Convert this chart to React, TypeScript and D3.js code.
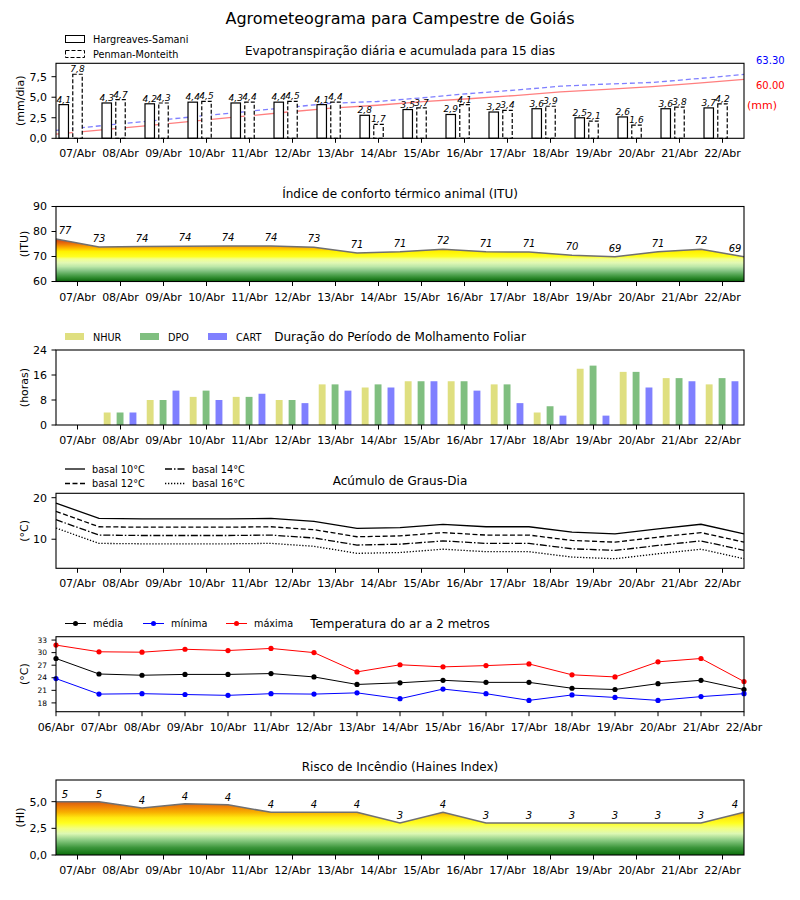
import React from "react";
import * as d3 from "d3";

const FONT = "DejaVu Sans, sans-serif";
const LEFT = 56;
const RIGHT = 744;
const PANEL_H = 75;

// datas do eixo x
const dayLabels = [
  "06/Abr", "07/Abr", "08/Abr", "09/Abr", "10/Abr", "11/Abr", "12/Abr", "13/Abr", "14/Abr",
  "15/Abr", "16/Abr", "17/Abr", "18/Abr", "19/Abr", "20/Abr", "21/Abr", "22/Abr",
];
const barDays = dayLabels.slice(1);

// evapotranspiração (mm/dia)
const etHS = [4.1, 4.3, 4.2, 4.4, 4.3, 4.4, 4.1, 2.8, 3.5, 2.9, 3.2, 3.6, 2.5, 2.6, 3.6, 3.7];
const etPM = [7.8, 4.7, 4.3, 4.5, 4.4, 4.5, 4.4, 1.7, 3.7, 4.1, 3.4, 3.9, 2.1, 1.6, 3.8, 4.2];
const etTotalPM = "63.30";
const etTotalHS = "60.00";

// ITU
const itu = [77.0, 73.8, 74.0, 74.1, 74.2, 74.2, 73.7, 71.4, 71.9, 72.9, 71.9, 71.8, 70.5, 69.9, 71.9, 72.9, 69.9];

// molhamento foliar (horas)
const nhur = [0, 4, 8, 9, 9, 8, 13, 12, 14, 14, 13, 4, 18, 17, 15, 13];
const dpo = [0, 4, 8, 11, 9, 8, 13, 13, 14, 14, 13, 6, 19, 17, 15, 15];
const cart = [0, 4, 11, 8, 10, 7, 11, 12, 14, 11, 7, 3, 3, 12, 14, 14];

// graus-dia
const gd10 = [18.7, 15.0, 14.9, 14.9, 14.9, 15.0, 14.3, 12.6, 12.8, 13.6, 13.0, 13.0, 11.7, 11.3, 12.5, 13.6, 11.3];
const gd12 = [16.7, 13.0, 12.9, 12.9, 12.9, 13.0, 12.3, 10.6, 10.8, 11.6, 11.0, 11.0, 9.7, 9.3, 10.5, 11.6, 9.3];
const gd14 = [14.7, 11.0, 10.9, 10.9, 10.9, 11.0, 10.3, 8.6, 8.8, 9.6, 9.0, 9.0, 7.7, 7.3, 8.5, 9.6, 7.3];
const gd16 = [12.7, 9.0, 8.9, 8.9, 8.9, 9.0, 8.3, 6.6, 6.8, 7.6, 7.0, 7.0, 5.7, 5.3, 6.5, 7.6, 5.3];

// temperatura do ar
const tMed = [28.6, 24.9, 24.6, 24.8, 24.8, 25.0, 24.2, 22.4, 22.8, 23.4, 22.9, 22.9, 21.5, 21.2, 22.6, 23.4, 21.2];
const tMin = [23.8, 20.1, 20.2, 20.0, 19.8, 20.2, 20.1, 20.4, 19.0, 21.3, 20.2, 18.6, 19.9, 19.3, 18.6, 19.5, 20.2];
const tMax = [31.8, 30.2, 30.1, 30.8, 30.5, 31.0, 30.0, 25.4, 27.1, 26.6, 26.9, 27.3, 24.7, 24.2, 27.8, 28.6, 23.1];

// Haines
const haines = [5.0, 5.0, 4.4, 4.8, 4.7, 4.0, 4.0, 4.0, 3.0, 4.0, 3.0, 3.0, 3.0, 3.0, 3.0, 3.0, 4.0];

const ituStops: [number, string][] = [
  [60, "#0a640a"], [61.5, "#2e8a2e"], [63, "#5aaa5a"], [64.5, "#8cc88a"], [66, "#bde8a8"],
  [67.5, "#e2f8b4"], [69, "#f2ff90"], [70, "#ffff20"], [72, "#fff200"], [73, "#ffc800"],
  [74, "#f8a000"], [75, "#ec7808"], [76, "#dc5a10"], [77.5, "#cc3a10"], [90, "#cc3a10"],
];
const hainesStops: [number, string][] = [
  [0, "#0a6e0a"], [0.7, "#3c963c"], [1.4, "#8ccc84"], [2.0, "#dcf8b4"], [2.5, "#f2ff80"],
  [3.0, "#ffff20"], [3.5, "#ffe810"], [4.0, "#f8b000"], [4.5, "#f08408"], [5.0, "#d85a10"], [7, "#d05010"],
];

const comma = (v: number) => d3.format(".1f")(v).replace(".", ",");
const x = d3.scaleLinear().domain([0, 16]).range([LEFT, RIGHT]);

function Frame({ top }: { top: number }) {
  return <rect x={LEFT} y={top} width={RIGHT - LEFT} height={PANEL_H} fill="none" stroke="#000" strokeWidth={1.1} />;
}

function XTicks({ top, pos, labels }: { top: number; pos: number[]; labels: string[] }) {
  const b = top + PANEL_H;
  return (
    <g>
      {pos.map((p, i) => (
        <g key={i}>
          <line x1={x(p)} x2={x(p)} y1={b} y2={b + 4.5} stroke="#000" />
          <text x={x(p)} y={b + 19} textAnchor="middle" fontSize={11}>{labels[i]}</text>
        </g>
      ))}
    </g>
  );
}

function YTicks({ y, ticks, fmt, fontSize = 11 }: { y: d3.ScaleLinear<number, number>; ticks: number[]; fmt: (v: number) => string; fontSize?: number }) {
  return (
    <g>
      {ticks.map((t) => (
        <g key={t}>
          <line x1={LEFT - 4.5} x2={LEFT} y1={y(t)} y2={y(t)} stroke="#000" />
          <text x={LEFT - 9} y={y(t)} dy="0.35em" textAnchor="end" fontSize={fontSize}>{fmt(t)}</text>
        </g>
      ))}
    </g>
  );
}

function YLabel({ top, text, cx }: { top: number; text: string; cx: number }) {
  const cy = top + PANEL_H / 2;
  return (
    <text transform={`translate(${cx},${cy}) rotate(-90)`} textAnchor="middle" dy="0.35em" fontSize={11}>{text}</text>
  );
}

function Title({ y, text }: { y: number; text: string }) {
  return <text x={400} y={y} textAnchor="middle" fontSize={12}>{text}</text>;
}

function Gradient({ id, stops, y }: { id: string; stops: [number, string][]; y: d3.ScaleLinear<number, number> }) {
  const [d0, d1] = y.domain();
  return (
    <linearGradient id={id} gradientUnits="userSpaceOnUse" x1={0} x2={0} y1={y(d0)} y2={y(d1)}>
      {stops.map(([v, c], i) => (
        <stop key={i} offset={(v - d0) / (d1 - d0)} stopColor={c} />
      ))}
    </linearGradient>
  );
}

function labelX(i: number, n: number) {
  if (i === 0) return x(0) + 9;
  if (i === n - 1) return x(n - 1) - 9;
  return x(i);
}

export default function App() {
  const idx17 = d3.range(17);
  const mid16 = d3.range(16).map((i) => i + 0.5);

  // painel 1
  const t1 = 63.3;
  const y1 = d3.scaleLinear().domain([0, 9.13]).range([t1 + PANEL_H, t1]);
  const y1b = d3.scaleLinear().domain([0, 74]).range([t1 + PANEL_H, t1]);
  const cumHS = d3.cumsum(etHS);
  const cumPM = d3.cumsum(etPM);
  const cumLine = d3.line<number>().x((_, i) => x((i * 16) / 15)).y((d) => y1b(d));
  const bw = 0.22 * 43;

  // painel 2
  const t2 = 206.5;
  const y2 = d3.scaleLinear().domain([60, 90]).range([t2 + PANEL_H, t2]);
  const ituArea = d3.area<number>().x((_, i) => x(i)).y0(y2(60)).y1((d) => y2(d));
  const ituLine = d3.line<number>().x((_, i) => x(i)).y((d) => y2(d));

  // painel 3
  const t3 = 350;
  const y3 = d3.scaleLinear().domain([0, 24]).range([t3 + PANEL_H, t3]);
  const wbw = 0.16 * 43;
  const wetSeries = [
    { name: "NHUR", data: nhur, color: "#dfdf80", off: -0.31 },
    { name: "DPO", data: dpo, color: "#80bf80", off: -0.01 },
    { name: "CART", data: cart, color: "#8080ff", off: 0.29 },
  ];

  // painel 4
  const t4 = 493.3;
  const y4 = d3.scaleLinear().domain([3.0, 21.06]).range([t4 + PANEL_H, t4]);
  const gdLine = d3.line<number>().x((_, i) => x(i)).y((d) => y4(d));
  const gdSeries = [
    { name: "basal 10°C", data: gd10, dash: "" },
    { name: "basal 12°C", data: gd12, dash: "5,2.5" },
    { name: "basal 14°C", data: gd14, dash: "7,2,1.5,2" },
    { name: "basal 16°C", data: gd16, dash: "1.3,1.7" },
  ];

  // painel 5
  const t5 = 636.7;
  const y5 = d3.scaleLinear().domain([15.9, 33.8]).range([t5 + PANEL_H, t5]);
  const tLine = d3.line<number>().x((_, i) => x(i)).y((d) => y5(d));
  const tSeries = [
    { name: "média", data: tMed, color: "#000000" },
    { name: "mínima", data: tMin, color: "#0000ff" },
    { name: "máxima", data: tMax, color: "#ff0000" },
  ];

  // painel 6
  const t6 = 780;
  const y6 = d3.scaleLinear().domain([0, 7.03]).range([t6 + PANEL_H, t6]);
  const hArea = d3.area<number>().x((_, i) => x(i)).y0(y6(0)).y1((d) => y6(d));
  const hLine = d3.line<number>().x((_, i) => x(i)).y((d) => y6(d));

  return (
    <svg width={800} height={900} style={{ position: "absolute", left: 0, top: 0, background: "#fff" }} fontFamily={FONT}>
      <defs>
        <Gradient id="ituGrad" stops={ituStops} y={y2} />
        <Gradient id="hGrad" stops={hainesStops} y={y6} />
      </defs>
      <rect width={800} height={900} fill="#fff" />
      <text x={400} y={24} textAnchor="middle" fontSize={16}>Agrometeograma para Campestre de Goiás</text>

      {/* Evapotranspiração */}
      <Title y={55} text="Evapotranspiração diária e acumulada para 15 dias" />
      <rect x={65.5} y={35.5} width={19} height={7} fill="#fff" stroke="#000" />
      <text x={93} y={42.5} fontSize={9.7}>Hargreaves-Samani</text>
      <rect x={65.5} y={50.5} width={19} height={7} fill="#fff" stroke="#000" strokeDasharray="4,2" />
      <text x={93} y={57.5} fontSize={9.7}>Penman-Monteith</text>
      <path d={cumLine(cumHS) ?? ""} fill="none" stroke="#ff7f7f" strokeWidth={1.3} />
      <path d={cumLine(cumPM) ?? ""} fill="none" stroke="#7f7fff" strokeWidth={1.3} strokeDasharray="5,3" />
      {mid16.map((m, i) => {
        const hx = x(m - 0.32) - bw / 2;
        const px = x(m) - bw / 2;
        return (
          <g key={i}>
            <rect x={hx} y={y1(etHS[i])} width={bw} height={y1(0) - y1(etHS[i])} fill="#fff" stroke="#000" strokeWidth={1.2} />
            <rect x={px} y={y1(etPM[i])} width={bw} height={y1(0) - y1(etPM[i])} fill="#fff" stroke="#000" strokeWidth={1.2} strokeDasharray="4,2" />
            <text x={hx + bw / 2} y={y1(etHS[i]) - 2} textAnchor="middle" fontSize={9} fontStyle="italic">{comma(etHS[i])}</text>
            <text x={px + bw / 2} y={y1(etPM[i]) - 2} textAnchor="middle" fontSize={9} fontStyle="italic">{comma(etPM[i])}</text>
          </g>
        );
      })}
      <Frame top={t1} />
      <YTicks y={y1} ticks={[0, 2.5, 5, 7.5]} fmt={comma} />
      <XTicks top={t1} pos={mid16} labels={barDays} />
      <YLabel top={t1} text="(mm/dia)" cx={20} />
      <text x={756} y={64} fontSize={10} fill="#0000ff">{etTotalPM}</text>
      <text x={756} y={89} fontSize={10} fill="#ff0000">{etTotalHS}</text>
      <text x={747} y={109} fontSize={11} fill="#ff0000">(mm)</text>

      {/* ITU */}
      <Title y={198} text="Índice de conforto térmico animal (ITU)" />
      <path d={ituArea(itu) ?? ""} fill="url(#ituGrad)" />
      <path d={ituLine(itu) ?? ""} fill="none" stroke="#707070" strokeWidth={1.5} />
      {itu.map((v, i) => (
        <text key={i} x={labelX(i, itu.length)} y={y2(v) - 5} textAnchor="middle" fontSize={10} fontStyle="italic">{Math.floor(v)}</text>
      ))}
      <Frame top={t2} />
      <YTicks y={y2} ticks={[60, 70, 80, 90]} fmt={(v) => String(v)} />
      <XTicks top={t2} pos={mid16} labels={barDays} />
      <YLabel top={t2} text="(ITU)" cx={24} />

      {/* Molhamento */}
      <Title y={341} text="Duração do Período de Molhamento Foliar" />
      {wetSeries.map((s, k) => (
        <g key={s.name}>
          <rect x={[65, 140, 208][k]} y={333} width={19} height={7} fill={s.color} />
          <text x={[93, 168, 236][k]} y={340.5} fontSize={9.7}>{s.name}</text>
          {s.data.map((v, i) => (
            <rect key={i} x={x(mid16[i] + s.off) - wbw / 2} y={y3(v)} width={wbw} height={y3(0) - y3(v)} fill={s.color} />
          ))}
        </g>
      ))}
      <Frame top={t3} />
      <YTicks y={y3} ticks={[0, 8, 16, 24]} fmt={(v) => String(v)} />
      <XTicks top={t3} pos={mid16} labels={barDays} />
      <YLabel top={t3} text="(horas)" cx={24} />

      {/* Graus-dia */}
      <Title y={485} text="Acúmulo de Graus-Dia" />
      {gdSeries.map((s, k) => {
        const lx = k < 2 ? 65 : 165;
        const ly = k % 2 === 0 ? 469 : 483.5;
        return (
          <g key={s.name}>
            <line x1={lx} x2={lx + 20} y1={ly} y2={ly} stroke="#000" strokeWidth={1.3} strokeDasharray={s.dash || undefined} />
            <text x={lx + 27} y={ly + 3.5} fontSize={9.7}>{s.name}</text>
            <path d={gdLine(s.data) ?? ""} fill="none" stroke="#000" strokeWidth={1.3} strokeDasharray={s.dash || undefined} />
          </g>
        );
      })}
      <Frame top={t4} />
      <YTicks y={y4} ticks={[10, 20]} fmt={(v) => String(v)} />
      <XTicks top={t4} pos={mid16} labels={barDays} />
      <YLabel top={t4} text="(°C)" cx={24} />

      {/* Temperatura */}
      <Title y={628} text="Temperatura do ar a 2 metros" />
      {tSeries.map((s, k) => {
        const lx = [65, 143, 226][k];
        return (
          <g key={s.name}>
            <line x1={lx} x2={lx + 21} y1={623.5} y2={623.5} stroke={s.color} strokeWidth={1} />
            <circle cx={lx + 10.5} cy={623.5} r={2.5} fill={s.color} />
            <text x={lx + 28} y={627} fontSize={9.7}>{s.name}</text>
            <path d={tLine(s.data) ?? ""} fill="none" stroke={s.color} strokeWidth={1} />
            {s.data.map((v, i) => (
              <circle key={i} cx={x(i)} cy={y5(v)} r={2.6} fill={s.color} />
            ))}
          </g>
        );
      })}
      <Frame top={t5} />
      <YTicks y={y5} ticks={[18, 21, 24, 27, 30, 33]} fmt={(v) => String(v)} fontSize={7.5} />
      <XTicks top={t5} pos={idx17} labels={dayLabels} />
      <YLabel top={t5} text="(°C)" cx={24} />

      {/* Haines */}
      <Title y={771} text="Risco de Incêndio (Haines Index)" />
      <path d={hArea(haines) ?? ""} fill="url(#hGrad)" />
      <path d={hLine(haines) ?? ""} fill="none" stroke="#707070" strokeWidth={1.5} />
      {haines.map((v, i) => (
        <text key={i} x={labelX(i, haines.length)} y={y6(v) - 4} textAnchor="middle" fontSize={10} fontStyle="italic">{Math.floor(v)}</text>
      ))}
      <Frame top={t6} />
      <YTicks y={y6} ticks={[0, 2.5, 5]} fmt={comma} />
      <XTicks top={t6} pos={mid16} labels={barDays} />
      <YLabel top={t6} text="(HI)" cx={20} />
    </svg>
  );
}
